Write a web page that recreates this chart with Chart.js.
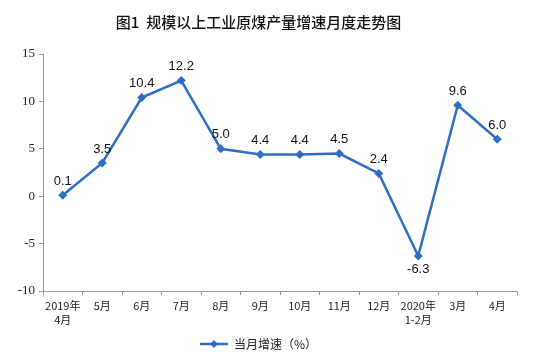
<!DOCTYPE html>
<html>
<head>
<meta charset="utf-8">
<script src="https://cdn.jsdelivr.net/npm/chart.js@4"></script>
<style>
  html, body { margin: 0; padding: 0; background: #fff; }
  #wrap { width: 542px; height: 360px; }
</style>
</head>
<body>
<div id="wrap"><canvas id="c" width="542" height="360"></canvas></div>
<script>
// chart data
const months = [['2019年', '4月'], '5月', '6月', '7月', '8月', '9月', '10月', '11月', '12月', ['2020年', '1-2月'], '3月', '4月'];
const growth = [0.1, 3.5, 10.4, 12.2, 5.0, 4.4, 4.4, 4.5, 2.4, -6.3, 9.6, 6.0];
const yTicks = [-10, -5, 0, 5, 10, 15];

const BLUE = '#2d6ec2';

// small icon for the legend: line with a diamond in the middle
const legendIcon = document.createElement('canvas');
legendIcon.width = 28;
legendIcon.height = 10;
(function () {
  const g = legendIcon.getContext('2d');
  g.strokeStyle = BLUE;
  g.lineWidth = 2.5;
  g.beginPath();
  g.moveTo(0, 5);
  g.lineTo(28, 5);
  g.stroke();
  g.fillStyle = BLUE;
  g.beginPath();
  g.moveTo(14, 1);
  g.lineTo(18, 5);
  g.lineTo(14, 9);
  g.lineTo(10, 5);
  g.closePath();
  g.fill();
})();

// value labels over the points
const valueLabels = {
  id: 'valueLabels',
  afterDatasetsDraw(chart) {
    const ctx = chart.ctx;
    const meta = chart.getDatasetMeta(0);
    ctx.save();
    ctx.font = '13px "Liberation Sans", Arial, sans-serif';
    ctx.fillStyle = '#111';
    ctx.textAlign = 'center';
    ctx.textBaseline = 'middle';
    meta.data.forEach((pt, i) => {
      const v = growth[i];
      const dy = v < 0 ? 13 : -14;
      ctx.fillText(v.toFixed(1), pt.x, pt.y + dy);
    });
    ctx.restore();
  }
};

new Chart(document.getElementById('c'), {
  type: 'line',
  data: {
    labels: months,
    datasets: [{
      label: '当月增速（%）',
      data: growth,
      borderColor: BLUE,
      backgroundColor: BLUE,
      borderWidth: 2.5,
      pointStyle: 'rectRot',
      pointRadius: 4.5,
      pointBorderWidth: 0,
      tension: 0,
      fill: false,
    }]
  },
  options: {
    responsive: false,
    animation: false,
    layout: { padding: { left: 0, right: 25, top: 0, bottom: 0 } },
    plugins: {
      title: {
        display: true,
        text: '图1  规模以上工业原煤产量增速月度走势图',
        color: '#111',
        font: { size: 15, family: '"Noto Sans CJK SC", sans-serif', weight: '500' },
        padding: { top: 13, bottom: 23 },
      },
      legend: {
        display: true,
        position: 'bottom',
        labels: {
          usePointStyle: true,
          pointStyle: legendIcon,
          pointStyleWidth: 28,
          color: '#222',
          font: { size: 12, family: '"Noto Sans CJK SC", sans-serif' },
          padding: 5,
        }
      },
      tooltip: { enabled: false },
    },
    scales: {
      x: {
        offset: true,
        grid: {
          display: true,
          drawOnChartArea: false,
          offset: true,
          tickLength: 4,
          color: '#999',
        },
        border: { color: '#999', width: 1 },
        ticks: {
          color: '#222',
          font: { size: 11, family: '"Noto Sans CJK SC", sans-serif', lineHeight: 1.25 },
          maxRotation: 0,
          autoSkip: false,
          padding: 4,
        },
        afterFit: (s) => { s.height = 42; },
      },
      y: {
        min: -10,
        max: 15,
        afterBuildTicks: (s) => { s.ticks = yTicks.map(v => ({ value: v })); },
        grid: {
          display: true,
          drawOnChartArea: false,
          tickLength: 4,
          color: '#999',
        },
        border: { color: '#999', width: 1 },
        ticks: {
          color: '#222',
          font: { size: 13, family: '"Liberation Serif", "Times New Roman", serif' },
          padding: 4,
        },
        afterFit: (s) => { s.width = 43; },
      }
    }
  },
  plugins: [valueLabels]
});
</script>
</body>
</html>
